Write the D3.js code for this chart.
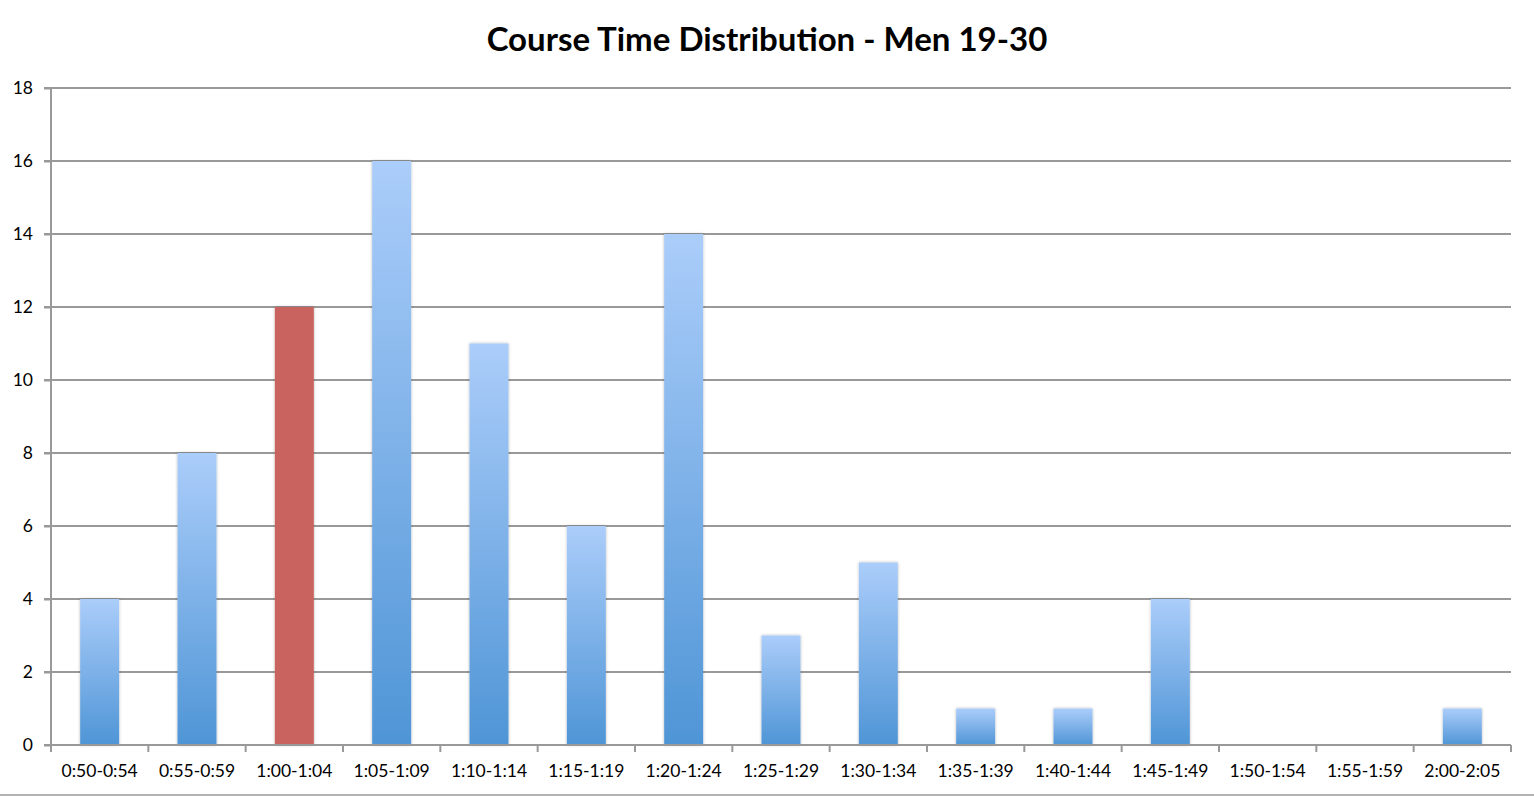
<!DOCTYPE html>
<html>
<head>
<meta charset="utf-8">
<script src="https://cdn.jsdelivr.net/npm/d3@7"></script>
<style>
  body { margin: 0; background: #fff; }
  svg { display: block; }
</style>
</head>
<body>
<svg id="chart" width="1534" height="796"></svg>
<script>
const categories = ["0:50-0:54", "0:55-0:59", "1:00-1:04", "1:05-1:09", "1:10-1:14",
    "1:15-1:19", "1:20-1:24", "1:25-1:29", "1:30-1:34", "1:35-1:39", "1:40-1:44",
    "1:45-1:49", "1:50-1:54", "1:55-1:59", "2:00-2:05"];
const counts = [4, 8, 12, 16, 11, 6, 14, 3, 5, 1, 1, 4, 0, 0, 1];
const highlighted = ["1:00-1:04"];
const yTicks = [0, 2, 4, 6, 8, 10, 12, 14, 16, 18];
const chartTitle = "Course Time Distribution - Men 19-30";

const svg = d3.select("#chart");
const width = 1534, height = 796;
const margin = {top: 88, right: 23, bottom: 51, left: 51};
const innerW = width - margin.left - margin.right;
const innerH = height - margin.top - margin.bottom;

// Gradient + shadow
const defs = svg.append("defs");
const grad = defs.append("linearGradient")
    .attr("id", "barGrad").attr("x1", 0).attr("y1", 0).attr("x2", 0).attr("y2", 1);
grad.append("stop").attr("offset", "0%").attr("stop-color", "#abcdfa");
grad.append("stop").attr("offset", "100%").attr("stop-color", "#4f95d6");

const shadow = defs.append("filter").attr("id", "shadow")
    .attr("x", "-30%").attr("y", "-10%").attr("width", "160%").attr("height", "120%");
shadow.append("feGaussianBlur").attr("in", "SourceAlpha").attr("stdDeviation", 1.5).attr("result", "blur");
shadow.append("feComponentTransfer").append("feFuncA").attr("type", "linear").attr("slope", 0.3);
const merge = shadow.append("feMerge");
merge.append("feMergeNode");
merge.append("feMergeNode").attr("in", "SourceGraphic");

svg.append("text")
    .attr("x", 767)
    .attr("y", 51)
    .attr("text-anchor", "middle")
    .attr("font-family", "Lato, 'Open Sans', sans-serif")
    .attr("font-weight", "bold")
    .attr("font-size", "33px")
    .attr("fill", "#000")
    .text(chartTitle);

const g = svg.append("g")
    .attr("transform", `translate(${margin.left},${margin.top})`);

const x = d3.scaleBand()
    .domain(categories)
    .range([0, innerW])
    .paddingInner(0.6)
    .paddingOuter(0.3);

const y = d3.scaleLinear()
    .domain([0, 18])
    .range([innerH, 0]);

// Gridlines with left tick
g.append("g")
    .selectAll("line")
    .data(yTicks.filter(d => d > 0))
    .enter().append("line")
    .attr("x1", -7)
    .attr("x2", innerW)
    .attr("y1", d => y(d))
    .attr("y2", d => y(d))
    .attr("stroke", "#999")
    .attr("stroke-width", 2);

// Bars
g.append("g")
    .selectAll("rect")
    .data(categories.map((c, i) => ({cat: c, value: counts[i]})).filter(d => d.value > 0))
    .enter().append("rect")
    .attr("x", d => x(d.cat))
    .attr("y", d => y(d.value))
    .attr("width", x.bandwidth())
    .attr("height", d => y(0) - y(d.value))
    .attr("fill", d => highlighted.includes(d.cat) ? "#c8635f" : "url(#barGrad)")
    .attr("filter", "url(#shadow)");

// Y axis
const yAxis = g.append("g")
    .call(d3.axisLeft(y).tickValues(yTicks).tickSize(7).tickPadding(11));
yAxis.select(".domain").attr("stroke", "#999").attr("stroke-width", 2)
    .attr("d", `M0,${innerH}V0`);
yAxis.selectAll(".tick line").attr("stroke", "#999").attr("stroke-width", 2);
yAxis.selectAll(".tick text")
    .attr("font-family", "Lato, 'Open Sans', sans-serif")
    .attr("font-size", "17.5px")
    .attr("fill", "#000");

// X axis: boundary ticks
const boundaries = d3.range(categories.length + 1).map(i => i * innerW / categories.length);
const xAxis = g.append("g").attr("transform", `translate(0,${innerH})`);
xAxis.append("line")
    .attr("x1", -7).attr("x2", innerW)
    .attr("stroke", "#999").attr("stroke-width", 2);
xAxis.selectAll(".bt")
    .data(boundaries)
    .enter().append("line")
    .attr("class", "bt")
    .attr("x1", d => d).attr("x2", d => d)
    .attr("y1", 0).attr("y2", 7)
    .attr("stroke", "#999").attr("stroke-width", 2);
xAxis.selectAll(".lbl")
    .data(categories)
    .enter().append("text")
    .attr("class", "lbl")
    .attr("x", d => x(d) + x.bandwidth() / 2)
    .attr("y", 32)
    .attr("text-anchor", "middle")
    .attr("font-family", "Lato, 'Open Sans', sans-serif")
    .attr("font-size", "17.5px")
    .attr("fill", "#000")
    .text(d => d);

// Bottom frame line
svg.append("line")
    .attr("x1", 0).attr("x2", width)
    .attr("y1", 795).attr("y2", 795)
    .attr("stroke", "#999").attr("stroke-width", 1.5);
</script>
</body>
</html>
